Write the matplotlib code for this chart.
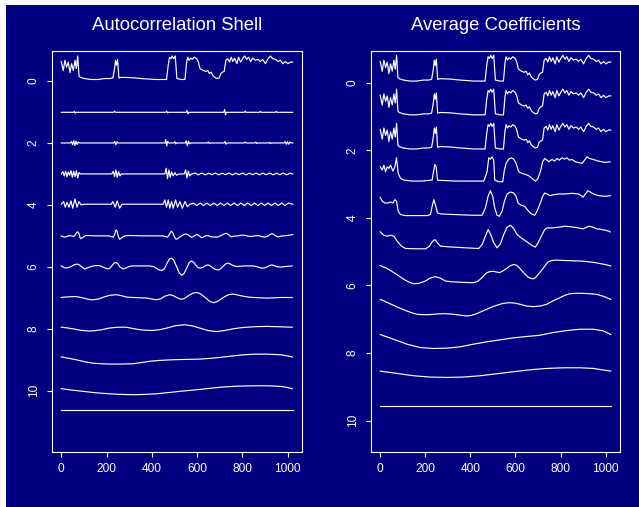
import matplotlib
matplotlib.use("Agg")
import matplotlib.pyplot as plt
from matplotlib.patches import Rectangle
import numpy as np

plt.rcParams['font.family'] = ['Liberation Sans', 'DejaVu Sans']

NAVY = '#000080'

# original signal (level 0)
signal_x = [0, 8.9, 16.3, 23.7, 31.1, 38.5, 45.9, 53.3, 60.7, 66.7, 72.6, 78.5, 84.4, 102.2, 131.9,
            161.5, 191.1, 213.3, 228.1, 235.6, 240, 244.4, 248.9, 254.8, 265.2, 309.6, 354.1, 413.3,
            465.2, 472.6, 478.5, 484.4, 490.4, 496.3, 503.7, 511.1, 531.9, 546.7, 554.1, 558.5, 564.4,
            571.9, 579.3, 588.1, 598.5, 605.9, 613.3, 628.1, 638.5, 647.4, 654.8, 662.2, 669.6, 677,
            687.4, 697.8, 705.2, 712.6, 720, 727.4, 736.3, 743.7, 751.1, 758.5, 765.9, 776.3, 783.7,
            792.6, 801.5, 810.4, 819.3, 828.1, 837, 845.9, 857.8, 869.6, 880, 890.4, 902.2, 914.1,
            924.4, 934.8, 946.7, 958.5, 968.9, 979.3, 991.1, 1001.5, 1013.3, 1023]
signal_y = [-0.63, -0.34, -0.67, -0.45, -0.61, -0.27, -0.56, -0.34, -0.67, -0.40, -0.81, -0.16, -0.12,
            -0.08, -0.05, -0.05, -0.08, -0.08, -0.10, -0.40, -0.67, -0.51, -0.70, -0.10, -0.12, -0.11,
            -0.08, -0.05, -0.05, -0.51, -0.77, -0.72, -0.81, -0.72, -0.81, -0.08, -0.05, -0.05, -0.61,
            -0.77, -0.67, -0.74, -0.70, -0.77, -0.72, -0.61, -0.40, -0.34, -0.31, -0.34, -0.24, -0.29,
            -0.18, -0.13, -0.08, -0.10, -0.24, -0.29, -0.31, -0.67, -0.72, -0.61, -0.77, -0.63, -0.74,
            -0.56, -0.77, -0.61, -0.72, -0.81, -0.70, -0.77, -0.63, -0.74, -0.67, -0.70, -0.63, -0.70,
            -0.56, -0.72, -0.81, -0.72, -0.70, -0.63, -0.67, -0.56, -0.63, -0.56, -0.61, -0.61]

# ---- autocorrelation shell rows ----
shell1_x = [0, 55, 58, 62, 65, 232, 236, 240, 462, 466, 470, 474, 552, 556, 560, 564, 718, 722, 726,
            730, 809, 813, 817, 876, 880, 884, 946, 950, 954, 1023]
shell1_y = [1.01, 1.01, 0.98, 1.04, 1.01, 1.01, 0.97, 1.01, 1.01, 0.97, 1.03, 1.01, 1.01, 0.95, 1.06,
            1.01, 1.01, 0.92, 1.09, 1.01, 1.01, 0.97, 1.01, 1.01, 0.98, 1.01, 1.01, 0.98, 1.01, 1.01]

shell2_x = [0, 40, 45, 50, 55, 60, 65, 70, 75, 80, 232, 236, 241, 246, 250, 458, 462, 466, 470, 475,
            498, 502, 506, 510, 548, 552, 557, 562, 567, 572, 646, 650, 654, 658, 720, 724, 728, 732,
            808, 812, 816, 856, 860, 864, 868, 916, 920, 924, 928, 985, 990, 995, 1000, 1005, 1010,
            1015, 1023]
shell2_y = [2.0, 2.0, 1.95, 2.06, 1.93, 2.08, 1.94, 2.05, 1.97, 2.0, 2.0, 1.95, 2.06, 1.96, 2.0, 2.0,
            1.89, 2.1, 1.95, 2.0, 2.0, 1.96, 2.03, 2.0, 2.0, 1.93, 2.09, 1.94, 2.03, 2.0, 2.0, 1.97,
            2.02, 2.0, 2.0, 1.95, 2.04, 2.0, 2.0, 1.97, 2.0, 2.0, 1.97, 2.02, 2.0, 2.0, 1.98, 2.02, 2.0,
            2.0, 1.96, 2.04, 1.96, 2.04, 1.97, 2.0, 2.0]

shell3_x = [0, 7.4, 13.3, 19.3, 25.2, 31.1, 37, 43, 48.9, 54.8, 60.7, 66.7, 72.6, 78.5, 84.4,
            223.7, 229.6, 235.6, 241.5, 247.4, 253.3, 259.3, 265.2,
            457.8, 463.7, 469.6, 475.6, 481.5, 487.4, 494.8, 502.2, 509.6, 520,
            543.7, 549.6, 555.6, 561.5, 567.4, 576.3,
            591, 606, 621, 636, 651, 666, 681, 696, 711, 726, 741, 756, 771, 786, 801, 816, 831, 846,
            861, 876, 891, 906, 921, 936, 951, 966, 981, 996, 1011, 1023]
shell3_y = [3.0, 2.925, 3.065, 2.914, 3.086, 2.935, 3.043, 2.892, 3.108, 2.914, 3.086, 2.892, 3.129,
            2.957, 3.0,
            3.0, 2.914, 3.086, 2.871, 3.108, 2.925, 3.065, 3.0,
            3.0, 2.817, 3.151, 2.871, 3.108, 2.935, 3.065, 2.957, 3.043, 3.0,
            3.0, 2.871, 3.129, 2.914, 3.065, 3.0,
            2.97, 3.03, 2.97, 3.03, 2.975, 3.025, 2.97, 3.03, 2.975, 3.025, 2.97, 3.03, 2.975, 3.025,
            2.97, 3.03, 2.975, 3.025, 2.97, 3.03, 2.975, 3.025, 2.97, 3.03, 2.975, 3.025, 2.97, 3.03,
            2.975, 3.0]

shell4_x = [0, 10.4, 17.8, 25.2, 34.1, 43, 50.4, 60.7, 69.6, 78.5, 87.4, 102.2,
            220.7, 228.1, 238.5, 247.4, 257.8, 268.1,
            450.4, 457.8, 465.2, 472.6, 480, 487.4, 494.8, 505.2, 514.1, 524.4, 534.8, 546.7, 557, 568.9,
            584, 599, 614, 629, 644, 659, 674, 689, 704, 719, 734, 749, 764, 779, 794, 809, 824, 839,
            854, 869, 884, 899, 914, 929, 944, 959, 974, 989, 1004, 1023]
shell4_y = [3.978, 3.892, 4.075, 3.914, 4.075, 3.871, 4.108, 3.806, 4.075, 3.892, 4.0, 3.978,
            3.978, 3.892, 4.075, 3.871, 4.108, 3.978,
            3.978, 3.839, 4.075, 3.839, 4.108, 3.892, 4.108, 3.839, 4.075, 3.892, 4.108, 3.892, 4.054,
            3.978,
            3.94, 4.02, 3.94, 4.02, 3.94, 4.02, 3.94, 4.02, 3.94, 4.02, 3.94, 4.02, 3.94, 4.02, 3.94,
            4.02, 3.94, 4.02, 3.94, 4.02, 3.94, 4.02, 3.94, 4.02, 3.94, 4.02, 3.94, 4.02, 3.94, 3.98]

shell5_x = [0, 8, 15, 25, 35, 45, 55, 62, 68, 73,
            78, 82, 86, 92, 100, 110, 120, 150, 210, 222,
            230, 236, 240, 243, 247, 252, 258, 264, 275, 290,
            300, 380, 450, 462, 470, 478, 483, 487, 492, 500,
            506, 510, 516, 524, 532, 543, 554, 565, 576, 588,
            599, 610, 620, 630, 640, 651, 662, 676, 690, 700,
            712, 722, 732, 741, 750, 765, 780, 795, 810, 825,
            840, 855, 870, 885, 900, 915, 925, 932, 940, 955,
            970, 985, 1005, 1023]
shell5_y = [5.0, 5.03, 5.04, 5.02, 4.99, 5.0, 5.02, 4.97, 4.89, 4.87,
            4.92, 5.04, 5.09, 5.07, 5.02, 4.99, 4.99, 5.0, 5.0, 5.03,
            5.04, 4.95, 4.84, 4.81, 4.86, 5.02, 5.11, 5.08, 5.02, 4.99,
            4.99, 5.0, 5.0, 5.03, 5.04, 4.95, 4.88, 4.85, 4.89, 5.03,
            5.10, 5.11, 5.08, 5.03, 5.0, 4.95, 4.94, 4.99, 5.05, 5.0,
            4.95, 5.0, 5.06, 5.03, 4.99, 5.0, 5.03, 5.04, 5.04, 5.01,
            4.97, 4.93, 4.92, 4.97, 5.03, 5.01, 5.0, 4.98, 4.98, 5.01,
            5.02, 5.0, 4.99, 5.02, 5.04, 5.0, 4.94, 4.93, 4.96, 5.03,
            5.01, 5.0, 4.98, 4.96]

shell6_x = [0, 11, 22, 33, 44, 58, 73, 88, 102, 117,
            132, 150, 169, 188, 206, 216, 226, 236, 243, 250,
            260, 273, 285, 300, 317, 391, 410, 430, 443, 455,
            468, 478, 487, 496, 510, 522, 532, 542, 554, 566,
            576, 586, 595, 604, 613, 622, 632, 641, 650, 661,
            672, 684, 695, 706, 717, 728, 739, 750, 760, 776,
            810, 850, 872, 885, 895, 905, 914, 923, 932, 941,
            950, 969, 990, 1020]
shell6_y = [5.97, 6.02, 6.04, 6.02, 5.99, 5.93, 5.91, 5.98, 6.07, 6.03,
            5.99, 5.96, 5.96, 6.02, 6.07, 6.04, 5.94, 5.87, 5.86, 5.9,
            6.01, 6.07, 6.04, 5.99, 5.97, 5.97, 6.0, 6.09, 6.12, 6.07,
            5.88, 5.75, 5.72, 5.77, 6.0, 6.2, 6.27, 6.22, 6.05, 5.86,
            5.81, 5.86, 5.95, 6.02, 6.04, 6.03, 5.99, 5.95, 5.94, 5.98,
            6.05, 6.09, 6.10, 6.05, 5.97, 5.90, 5.88, 5.92, 5.96, 5.99,
            5.97, 5.97, 6.01, 6.04, 6.04, 6.02, 5.98, 5.95, 5.94, 5.96,
            5.99, 6.01, 5.99, 5.97]

shell7_x = [0, 30, 65, 100, 120, 139, 165, 190, 215, 243,
            265, 290, 317, 350, 380, 400, 421, 440, 460, 480,
            495, 510, 522, 532, 545, 565, 582, 599, 615, 636,
            655, 673, 690, 710, 730, 745, 761, 785, 805, 830,
            850, 880, 910, 940, 970, 1020]
shell7_y = [6.99, 6.97, 6.96, 7.01, 7.05, 7.065, 7.04, 6.97, 6.92, 6.90,
            6.93, 6.98, 6.99, 7.0, 7.01, 7.04, 7.065, 7.03, 6.94, 6.90,
            6.93, 6.99, 7.03, 7.045, 7.02, 6.92, 6.85, 6.83, 6.87, 6.99,
            7.11, 7.16, 7.12, 7.02, 6.93, 6.89, 6.88, 6.92, 6.95, 6.98,
            6.99, 7.0, 7.01, 7.0, 6.99, 6.99]

shell8_x = [0, 25, 50, 85, 124, 150, 180, 210, 243, 265,
            287, 315, 347, 375, 406, 435, 465, 505, 547, 580,
            613, 650, 687, 720, 761, 790, 821, 865, 910, 960,
            1021]
shell8_y = [7.95, 7.97, 8.0, 8.05, 8.075, 8.06, 8.03, 7.98, 7.955, 7.95,
            7.95, 7.99, 8.03, 8.05, 8.055, 8.03, 7.98, 7.90, 7.87, 7.91,
            7.98, 8.06, 8.09, 8.06, 8.0, 7.97, 7.95, 7.93, 7.925, 7.935,
            7.95]

shell9_x = [0, 30, 65, 100, 139, 175, 213, 265, 317, 355, 391, 440, 495, 555, 613, 660, 702, 755,
            806, 860, 910, 940, 969, 995, 1021]
shell9_y = [8.91, 8.95, 9.0, 9.06, 9.11, 9.13, 9.14, 9.14, 9.13, 9.09, 9.05, 9.02, 9.0, 8.99, 8.98,
            8.955, 8.925, 8.88, 8.84, 8.82, 8.82, 8.83, 8.84, 8.87, 8.91]

shell10_x = [0, 45, 95, 155, 213, 265, 317, 370, 421, 475, 524, 585, 643, 700, 761, 820, 880, 925,
             969, 995, 1021]
shell10_y = [9.935, 9.98, 10.02, 10.07, 10.10, 10.12, 10.13, 10.12, 10.10, 10.06, 10.02, 9.98, 9.935,
             9.89, 9.86, 9.845, 9.84, 9.845, 9.86, 9.89, 9.935]

shell11_x = [0, 1023]
shell11_y = [10.61, 10.61]

# ---- average coefficient rows ----
avg_signal_levels = [0.0, 1.0, 2.01]   # rows 0-2 follow the signal itself

avg3_x = [0, 8.9, 16.2, 23.6, 31, 38.4, 45.8, 56.1, 65, 72.4, 79.8, 90.1, 104.9, 141.8, 186.1, 215.7,
          230.4, 236.3, 242.2, 248.2, 254.1, 267.4, 333.8, 407.7, 459.4, 474.2, 481.5, 488.9, 496.3,
          503.7, 508.1, 525.8, 543.6, 551, 558.4, 570.2, 582, 592.3, 602.7, 614.5, 629.2, 644, 658.8,
          673.6, 688.3, 698.7, 710.5, 720.8, 729.7, 740, 747.4, 762.2, 774, 784.3, 794.7, 806.5, 818.3,
          828.7, 839, 850.8, 865.6, 880.4, 895.1, 906.9, 917.3, 927.6, 939.4, 954.2, 969, 983.7, 998.5,
          1020]
avg3_y = [2.487, 2.585, 2.438, 2.634, 2.487, 2.536, 2.438, 2.615, 2.487, 2.221, 2.683, 2.831, 2.88,
          2.91, 2.91, 2.89, 2.88, 2.634, 2.418, 2.487, 2.88, 2.89, 2.91, 2.91, 2.91, 2.634, 2.221, 2.26,
          2.192, 2.29, 2.88, 2.93, 2.93, 2.585, 2.388, 2.26, 2.221, 2.26, 2.388, 2.634, 2.683, 2.713,
          2.752, 2.831, 2.91, 2.851, 2.634, 2.339, 2.241, 2.29, 2.339, 2.27, 2.32, 2.241, 2.29, 2.221,
          2.26, 2.221, 2.29, 2.27, 2.339, 2.359, 2.388, 2.29, 2.192, 2.241, 2.26, 2.29, 2.32, 2.339,
          2.359, 2.339]

avg4_x = [0, 8.9, 20.7, 35.5, 45.8, 56.1, 65, 72.4, 79.8, 90.1, 112.3, 156.6, 208.3, 223, 230.4,
          237.8, 245.2, 254.1, 267.4, 333.8, 407.7, 452, 466.8, 478.6, 488.9, 499.3, 508.1, 518.5,
          528.8, 540.6, 551, 562.8, 577.5, 592.3, 602.7, 611.5, 626.3, 641.1, 655.8, 670.6, 685.4,
          695.7, 710.5, 720.8, 729.7, 740, 754.8, 769.6, 791.7, 821.3, 850.8, 880.4, 892.2, 899.6,
          910.3, 921.7, 932, 946.8, 968.9, 998.5, 1020.7]
avg4_y = [3.391, 3.509, 3.559, 3.559, 3.529, 3.559, 3.46, 3.509, 3.804, 3.902, 3.932, 3.932, 3.932,
          3.902, 3.657, 3.46, 3.62, 3.853, 3.883, 3.902, 3.922, 3.922, 3.706, 3.362, 3.195, 3.362,
          3.706, 3.922, 3.952, 3.804, 3.509, 3.293, 3.234, 3.264, 3.362, 3.559, 3.628, 3.657, 3.785,
          3.883, 3.922, 3.804, 3.559, 3.362, 3.264, 3.293, 3.342, 3.313, 3.293, 3.293, 3.273, 3.293,
          3.342, 3.391, 3.293, 3.195, 3.234, 3.293, 3.342, 3.362, 3.342]

avg5_x = [0, 16.2, 31, 45.8, 60.6, 75.3, 94.5, 112.3, 156.6, 200.9, 218.6, 230.4, 242.2, 254.1, 267.4,
          304.3, 378.1, 437.2, 452, 466.8, 478.6, 490.4, 503.7, 518.5, 533.2, 548, 562.8, 577.5,
          592.3, 607.1, 629.2, 651.4, 673.6, 688.3, 700.1, 714.9, 729.7, 740, 762.2, 791.7, 821.3,
          850.8, 880.4, 898.1, 909.9, 924.7, 939.4, 961.6, 983.8, 1005.9, 1020.7]
avg5_y = [4.414, 4.513, 4.542, 4.513, 4.542, 4.689, 4.837, 4.906, 4.915, 4.915, 4.837, 4.709, 4.641,
          4.739, 4.837, 4.857, 4.886, 4.906, 4.788, 4.542, 4.345, 4.493, 4.739, 4.886, 4.768, 4.493,
          4.276, 4.217, 4.316, 4.493, 4.611, 4.709, 4.817, 4.867, 4.739, 4.542, 4.345, 4.296, 4.296,
          4.276, 4.247, 4.266, 4.296, 4.325, 4.296, 4.247, 4.266, 4.325, 4.345, 4.375, 4.414]

avg6_x = [0, 31, 68, 105, 130, 148, 170, 200, 222, 244,
          266, 290, 315, 340, 375, 413, 432, 450, 462, 474,
          487, 500, 515, 530, 545, 560, 576, 592, 604, 615,
          628, 640, 656, 672, 682, 690, 705, 720, 733, 745,
          762, 783, 815, 850, 900, 950, 990, 1023]
avg6_y = [5.41, 5.50, 5.65, 5.82, 5.91, 5.95, 5.94, 5.87, 5.78, 5.74,
          5.78, 5.87, 5.89, 5.90, 5.91, 5.92, 5.88, 5.78, 5.69, 5.62,
          5.59, 5.58, 5.60, 5.62, 5.57, 5.50, 5.42, 5.38, 5.40, 5.46,
          5.56, 5.65, 5.75, 5.80, 5.80, 5.76, 5.64, 5.52, 5.40, 5.30,
          5.26, 5.25, 5.26, 5.27, 5.28, 5.32, 5.37, 5.42]

avg7_x = [0, 30, 59.1, 90, 118.2, 140, 162.5, 190, 221.6, 250,
          280.6, 300, 325, 355, 384, 405, 428.4, 450, 472.7, 495,
          517, 545, 576.1, 600, 620.4, 650, 679.5, 710, 738.6, 765,
          797.6, 820, 842, 870, 901, 930, 960.1, 990, 1023]
avg7_y = [6.411, 6.50, 6.588, 6.68, 6.755, 6.81, 6.853, 6.865, 6.863, 6.845,
          6.834, 6.84, 6.853, 6.88, 6.903, 6.885, 6.834, 6.77, 6.706, 6.64,
          6.588, 6.53, 6.509, 6.525, 6.558, 6.61, 6.627, 6.61, 6.558, 6.46,
          6.362, 6.29, 6.244, 6.232, 6.234, 6.245, 6.264, 6.32, 6.411]

avg8_x = [0, 59.1, 118.2, 177.3, 236.3, 295.4, 354.5, 413.6, 472.7, 531.8, 590.8, 649.9, 709, 768.1,
          827.2, 886.3, 945.3, 989.7, 1023]
avg8_y = [7.453, 7.591, 7.738, 7.837, 7.866, 7.856, 7.817, 7.738, 7.669, 7.61, 7.551, 7.512, 7.473,
          7.394, 7.335, 7.296, 7.296, 7.345, 7.453]

avg9_x = [0, 73.9, 147.7, 221.6, 295.4, 369.3, 443.1, 517, 590.8, 664.7, 738.6, 812.4, 886.3, 945.3,
          1023]
avg9_y = [8.535, 8.604, 8.673, 8.712, 8.722, 8.712, 8.673, 8.614, 8.555, 8.496, 8.456, 8.437, 8.437,
          8.456, 8.535]

avg10_x = [0, 1023]
avg10_y = [9.567, 9.567]

x_ticks = [0, 200, 400, 600, 800, 1000]
y_ticks = [0, 2, 4, 6, 8, 10]

shell_rows = [(signal_x, signal_y), (shell1_x, shell1_y), (shell2_x, shell2_y), (shell3_x, shell3_y),
              (shell4_x, shell4_y), (shell5_x, shell5_y), (shell6_x, shell6_y), (shell7_x, shell7_y),
              (shell8_x, shell8_y), (shell9_x, shell9_y), (shell10_x, shell10_y),
              (shell11_x, shell11_y)]
avg_rows = [(signal_x, np.array(signal_y) + lev) for lev in avg_signal_levels]
avg_rows += [(avg3_x, avg3_y), (avg4_x, avg4_y), (avg5_x, avg5_y), (avg6_x, avg6_y),
             (avg7_x, avg7_y), (avg8_x, avg8_y), (avg9_x, avg9_y), (avg10_x, avg10_y)]

W, H = 639, 507
fig = plt.figure(figsize=(W / 100, H / 100), dpi=100)
fig.patch.set_facecolor('white')
fig.patches.append(Rectangle((6 / W, 0), 1 - 6 / W, 1 - 5 / H, transform=fig.transFigure,
                             facecolor=NAVY, edgecolor='none', zorder=-10))


def make_panel(left_px, right_px, ylim, rows, title):
    ax = fig.add_axes([left_px / W, (H - 452) / H, (right_px - left_px) / W, 401 / H])
    ax.set_facecolor(NAVY)
    for xs, ys in rows:
        ax.plot(xs, ys, color='white', lw=0.85)
    ax.set_xlim(-40.92, 1063.92)
    ax.set_ylim(*ylim)
    ax.set_xticks(x_ticks)
    ax.set_yticks(y_ticks)
    for s in ax.spines.values():
        s.set_color('white')
        s.set_linewidth(0.8)
    ax.tick_params(colors='white', labelcolor='white', length=3.3, width=0.8, labelsize=8.6)
    ax.tick_params(axis='x', pad=4.5)
    ax.tick_params(axis='y', pad=5.5)
    plt.setp(ax.get_yticklabels(), rotation=90, va='center')
    fig.text((left_px + right_px) / 2 / W, 1 - 29.5 / H, title, color='white', fontsize=13.3,
             ha='center', va='baseline')
    return ax


make_panel(52, 302, (11.98, -0.97), shell_rows, 'Autocorrelation Shell')
make_panel(371, 620, (10.93, -0.94), avg_rows, 'Average Coefficients')

fig.savefig('out.png', dpi=100, facecolor=fig.get_facecolor())
